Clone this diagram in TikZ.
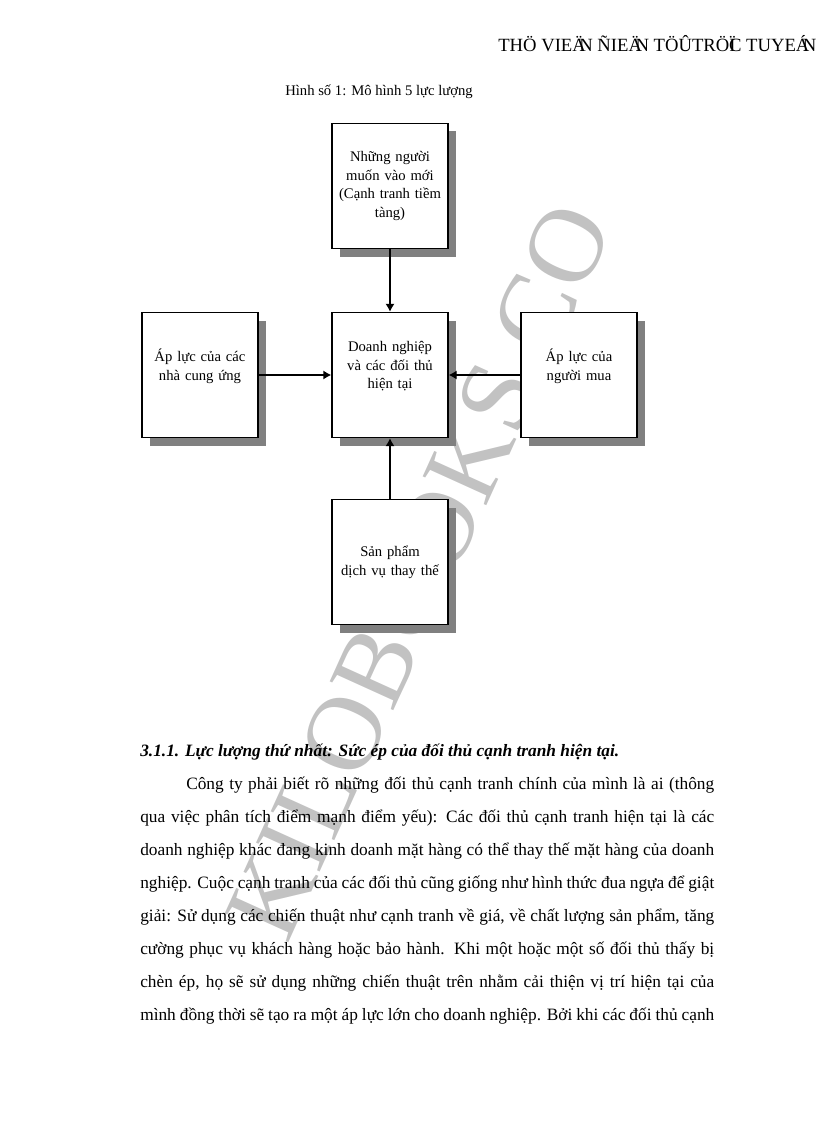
\documentclass[tikz,border=0pt]{standalone}
\usepackage{fontspec}
\setmainfont{Liberation Serif}
\usetikzlibrary{arrows.meta,shadows}

\begin{document}
\begin{tikzpicture}[x=0.75pt,y=-0.75pt,
  force/.style={draw, line width=1.1pt, fill=white, rectangle,
    minimum width=87pt, minimum height=93.75pt, text width=80pt,
    align=center, inner sep=2pt, font=\fontsize{11}{14}\selectfont,
    drop shadow={shadow xshift=6pt, shadow yshift=-6pt, fill=black!50, opacity=1}},
  lifted/.style={execute at end node={\endgraf\vspace*{13pt}}},
  ptr/.style={-{Latex[length=6pt,width=7pt]}, line width=1.1pt},
  bodyline/.style={anchor=base west, inner sep=0pt, font=\fontsize{13}{16}\selectfont},
  mark text/.style={text=black!24, font=\fontsize{80}{80}\selectfont, inner sep=0pt}
]
\useasboundingbox (0,0) rectangle (816,1123);
% watermark behind everything
\node[mark text, rotate=65.6] (wm) at (419,571) {KILOBOOKS.CO};
% header and caption
\node[bodyline, font=\fontsize{14}{16}\selectfont] (header) at (498,52)
  {THÖ VIEÄ\kern-.35emN ÑIEÄ\kern-.35emN TÖÛTRÖÏ\kern-.35emC TUYEÁ\kern-.35emN};
\node[bodyline, font=\fontsize{11}{13}\selectfont] (caption) at (285,96)
  {Hình số 1: Mô hình 5 lực lượng};
% the five forces
\node[force] (entrants) at (390,186) {Những người\\muốn vào mới\\(Cạnh tranh tiềm\\tàng)};
\node[force, lifted] (suppliers) at (200,375) {Áp lực của các\\nhà cung ứng};
\node[force, lifted] (rivals) at (390,375) {Doanh nghiệp\\và các đối thủ\\hiện tại};
\node[force, lifted] (buyers) at (579,375) {Áp lực của\\người mua};
\node[force] (substitutes) at (390,562) {Sản phẩm\\dịch vụ thay thế};
\draw[ptr] (entrants.south) -- (rivals.north);
\draw[ptr] (suppliers.east) -- (rivals.west);
\draw[ptr] (buyers.west) -- (rivals.east);
\draw[ptr] (substitutes.north) -- (rivals.south);
% section text
\node[bodyline] (heading) at (140,756)
  {\textbf{\textit{3.1.1. Lực lượng thứ nhất: Sức ép của đối thủ cạnh tranh hiện tại.}}};
\node[bodyline] (line1) at (186,789)
  {\hbox to 396pt{Công ty phải biết rõ những đối thủ cạnh tranh chính của mình là ai (thông}};
\foreach \txt [count=\i from 2] in {
  {qua việc phân tích điểm mạnh điểm yếu): Các đối thủ cạnh tranh hiện tại là các},
  {doanh nghiệp khác đang kinh doanh mặt hàng có thể thay thế mặt hàng của doanh},
  {nghiệp. Cuộc cạnh tranh của các đối thủ cũng giống như hình thức đua ngựa để giật},
  {giải: Sử dụng các chiến thuật như cạnh tranh về giá, về chất lượng sản phẩm, tăng},
  {cường phục vụ khách hàng hoặc bảo hành. Khi một hoặc một số đối thủ thấy bị},
  {chèn ép, họ sẽ sử dụng những chiến thuật trên nhằm cải thiện vị trí hiện tại của},
  {mình đồng thời sẽ tạo ra một áp lực lớn cho doanh nghiệp. Bởi khi các đối thủ cạnh}}
  \node[bodyline] (line\i) at (140,{756+33*\i}) {\hbox to 430.5pt{\txt}};
\end{tikzpicture}
\end{document}
